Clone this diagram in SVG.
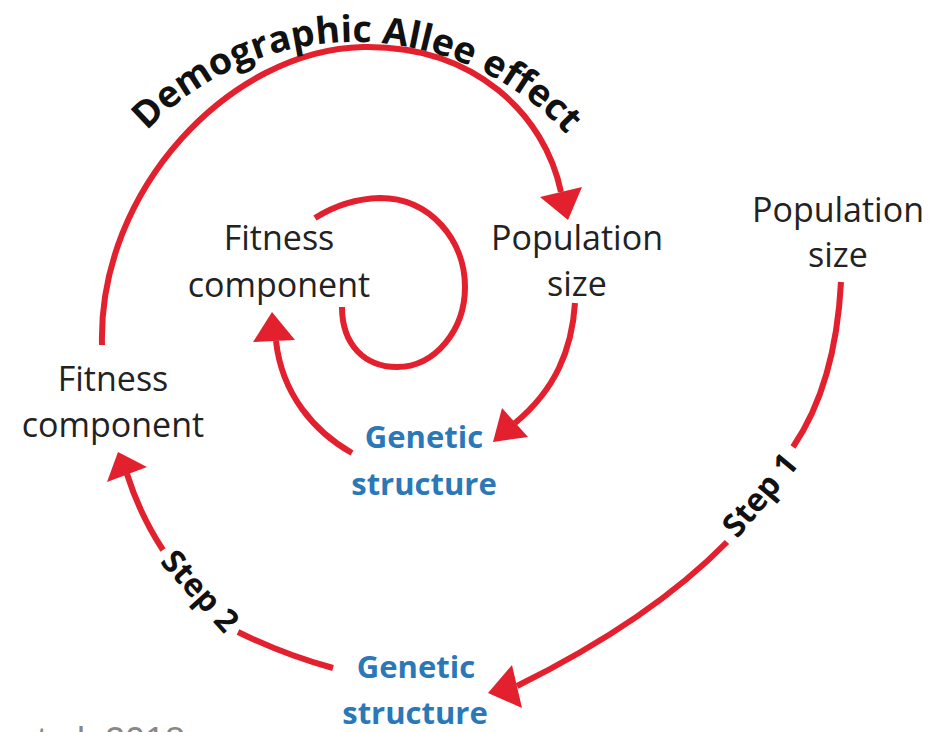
<svg xmlns="http://www.w3.org/2000/svg" width="935" height="732" viewBox="0 0 935 732">
<style>
.lbl{font-family:"Open Sans","Liberation Sans",sans-serif;font-size:34px;fill:#222;text-anchor:middle}
.gen{font-family:"Open Sans","Liberation Sans",sans-serif;font-size:31px;font-weight:bold;fill:#2B78B8;text-anchor:middle}
.step{font-family:"Open Sans","Liberation Sans",sans-serif;font-size:32px;font-weight:bold;fill:#111;text-anchor:middle}
.arc{fill:none;stroke:#E2202E;stroke-width:6}
.head{fill:#E2202E}
</style>
<defs>
<path id="tp" d="M146.8,131 A288,288 0 0 1 566.3,134.3"/>
</defs>
<rect width="935" height="732" fill="#fff"/>
<g id="connectors">
<path class="arc" d="M102,345 C98,190 230,50 363,47 C475,45 545,115 561,192"/>
<polygon class="head" points="568,220 540,197 582,187"/>
<path class="arc" d="M575,303 C572,350 555,390 515,423"/>
<polygon class="head" points="493,442 502,408 528,437"/>
<path class="arc" d="M352,453 C315,432 282,395 276,341"/>
<polygon class="head" points="272,312 253,342 295,340"/>
<path class="arc" d="M315,218 Q345,199 380,198 C430,198 465,240 465,287 C465,330 435,367 397,367 C365,367 342,345 342,307"/>
<path class="arc" d="M841,282 C838,340 825,400 793,447"/>
<path class="arc" d="M727,542 C680,590 610,640 517,686"/>
<polygon class="head" points="488,693 512,665 522,708"/>
<path class="arc" d="M127,474 Q140,515 163,550"/>
<path class="arc" d="M238,632 Q285,655 333,668"/>
<polygon class="head" points="118,452 107,482 147,467"/>
<text class="step" transform="translate(760,495) rotate(-50)" y="11">Step 1</text>
<text class="step" transform="translate(200,591) rotate(48)" y="11">Step 2</text>
<text font-family="'Open Sans','Liberation Sans',sans-serif" font-size="37" font-weight="bold" fill="#111"><textPath href="#tp" textLength="470" lengthAdjust="spacingAndGlyphs">Demographic Allee effect</textPath></text>
</g>
<g id="fitness-outer"><text class="lbl" x="113" y="391">Fitness</text><text class="lbl" x="113" y="437">component</text></g>
<g id="fitness-inner"><text class="lbl" x="279" y="250">Fitness</text><text class="lbl" x="279" y="297">component</text></g>
<g id="population-inner"><text class="lbl" x="577" y="250">Population</text><text class="lbl" x="577" y="296">size</text></g>
<g id="population-outer"><text class="lbl" x="838" y="222">Population</text><text class="lbl" x="838" y="267">size</text></g>
<g id="genetic-inner"><text class="gen" x="424" y="448">Genetic</text><text class="gen" x="424" y="495">structure</text></g>
<g id="genetic-outer"><text class="gen" x="416" y="678">Genetic</text><text class="gen" x="415" y="724">structure</text></g>
<g id="citation"><text x="17" y="753" font-family="'Liberation Sans',sans-serif" font-size="36" fill="#888">et al. 2018</text></g>
</svg>
